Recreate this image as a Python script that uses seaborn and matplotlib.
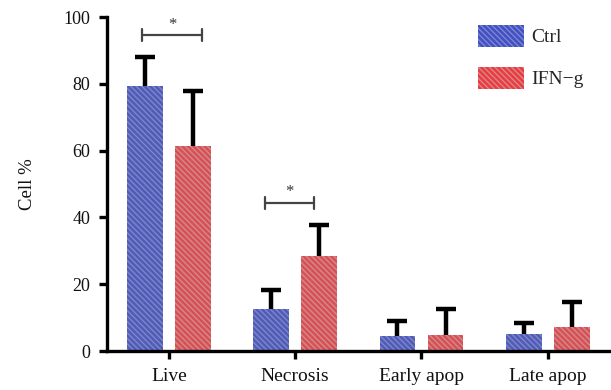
import matplotlib
matplotlib.use("Agg")
import matplotlib.pyplot as plt
import seaborn as sns
import pandas as pd
import numpy as np
from matplotlib.patches import Patch

categories = ["Live", "Necrosis", "Early apop", "Late apop"]
groups = ["Ctrl", "IFN\u2212g"]
ctrl_mean = [79.5, 12.6, 4.4, 5.1]
ctrl_sd = [8.5, 5.7, 4.5, 3.3]
ifn_mean = [61.3, 28.4, 4.9, 7.1]
ifn_sd = [16.5, 9.3, 7.6, 7.7]
yticks = [0, 20, 40, 60, 80, 100]

sns.set_theme(style="white")
plt.rcParams["font.family"] = ["Liberation Serif", "DejaVu Serif"]
plt.rcParams["hatch.linewidth"] = 1.0

df = pd.DataFrame({
    "category": categories * 2,
    "group": [groups[0]] * 4 + [groups[1]] * 4,
    "value": ctrl_mean + ifn_mean,
    "sd": ctrl_sd + ifn_sd,
})

fill = {groups[0]: "#4150C2", groups[1]: "#EC3A40"}
hatch_col = {groups[0]: "#7D86D2", groups[1]: "#D48A8A"}
HATCH = "\\" * 6

fig = plt.figure(figsize=(6.11, 3.90), dpi=100)
ax = fig.add_axes([0.175, 0.10, 0.825, 0.856])

sns.barplot(data=df, x="category", y="value", hue="group", order=categories,
            hue_order=groups, palette=fill, width=0.76, gap=0.26,
            errorbar=None, ax=ax, legend=False)

# hatching and upper-only error bars for each group
for container, g in zip(ax.containers, groups):
    sub = df[df["group"] == g]
    xs, tops = [], []
    for bar in container:
        bar.set_hatch(HATCH)
        bar.set_edgecolor(hatch_col[g])
        bar.set_linewidth(0)
        xs.append(bar.get_x() + bar.get_width() / 2)
        tops.append(bar.get_height())
    _, caps, _ = ax.errorbar(xs, tops, yerr=[np.zeros(len(xs)), sub["sd"].values],
                             fmt="none", ecolor="black", elinewidth=3.2,
                             capsize=7, capthick=3.2, zorder=3)
    caps[0].set_visible(False)

ax.set_ylim(0, 100)
ax.set_xlim(-0.49, 3.5)
ax.set_yticks(yticks)
ax.set_xlabel("")
ax.set_ylabel("Cell %", fontsize=13.5, labelpad=20, color="#111111")
for side in ["top", "right"]:
    ax.spines[side].set_visible(False)
for side in ["left", "bottom"]:
    ax.spines[side].set_color("black")
    ax.spines[side].set_linewidth(2.4)
ax.tick_params(axis="both", which="both", direction="out", length=6, width=2.4,
               colors="black", left=True, bottom=True, pad=6)
ax.tick_params(axis="x", labelsize=14)
ax.tick_params(axis="y", labelsize=13)
for lbl in ax.get_xticklabels() + ax.get_yticklabels():
    lbl.set_color("#111111")

# significance brackets
def bracket(x0, x1, y, h=1.8):
    ax.plot([x0, x1], [y, y], color="#444444", lw=1.6, zorder=4)
    for xx in (x0, x1):
        ax.plot([xx, xx], [y - h, y + h], color="#444444", lw=1.6, zorder=4)
    ax.text((x0 + x1) / 2, y + 0.8, "*", ha="center", va="bottom",
            fontsize=12, color="#333333")

bracket(-0.21, 0.26, 94.6)
bracket(0.76, 1.15, 44.3)

# legend
handles = [Patch(facecolor=fill[g], edgecolor=hatch_col[g], hatch=HATCH,
                 linewidth=0, label=g) for g in groups]
ax.legend(handles=handles, loc="upper right", bbox_to_anchor=(0.98, 1.03),
          frameon=False, fontsize=14, handlelength=2.4, handleheight=1.4,
          handletextpad=0.35, labelspacing=1.0)

fig.savefig("out.png", dpi=100, facecolor="white")
